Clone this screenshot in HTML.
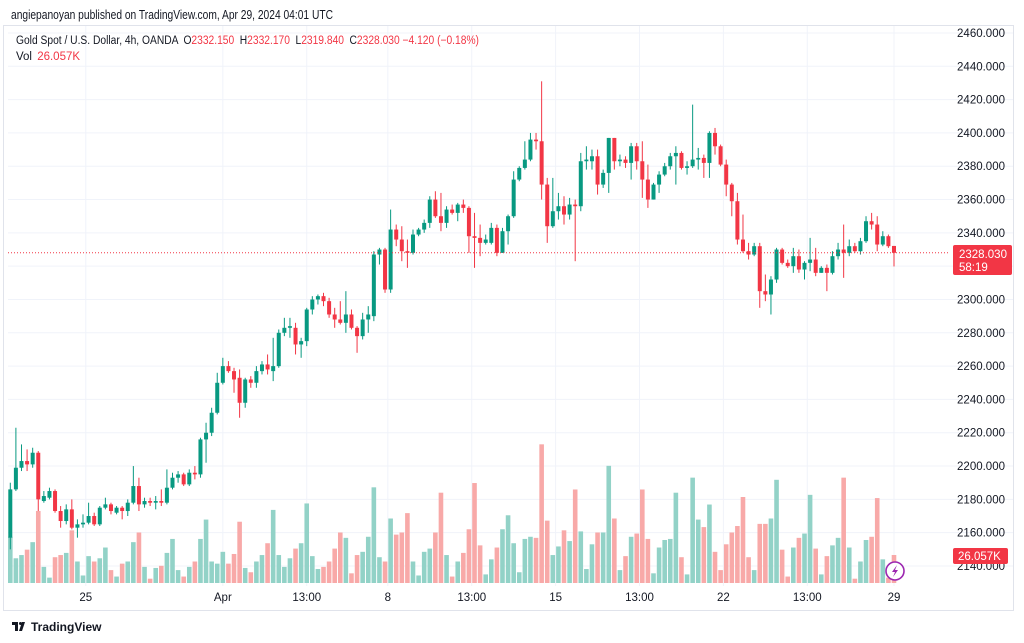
<!DOCTYPE html>
<html><head><meta charset="utf-8"><style>
html,body{margin:0;padding:0;background:#fff;width:1024px;height:643px;overflow:hidden;font-family:"Liberation Sans",sans-serif}
svg{position:absolute;left:0;top:0}
</style></head><body>
<svg id="chart" width="1024" height="643">
  <text x="11" y="19" font-size="12.5" fill="#131722" textLength="322" lengthAdjust="spacingAndGlyphs">angiepanoyan published on TradingView.com, Apr 29, 2024 04:01 UTC</text>
  <rect x="3.5" y="25.5" width="1010" height="585" fill="none" stroke="#e0e3eb"/>
  <g id="grid"></g>
  <g id="vols"></g>
  <g id="candles"></g>
  <line x1="8" x2="950" y1="0" y2="0" id="lastline" stroke="#f23645" stroke-dasharray="1,2"/>
  <g id="yaxis"></g>
  <g id="xaxis"></g>
  <g font-size="11.5">
    <text x="16" y="44" fill="#131722" textLength="463" lengthAdjust="spacingAndGlyphs">Gold Spot / U.S. Dollar, 4h, OANDA <tspan dx="3">O</tspan><tspan fill="#f23645">2332.150</tspan> <tspan dx="3">H</tspan><tspan fill="#f23645">2332.170</tspan> <tspan dx="3">L</tspan><tspan fill="#f23645">2319.840</tspan> <tspan dx="3">C</tspan><tspan fill="#f23645">2328.030 −4.120 (−0.18%)</tspan></text>
    <text x="16" y="60" fill="#131722">Vol <tspan fill="#f23645" dx="2">26.057K</tspan></text>
  </g>
  <rect x="953" y="245" width="59" height="30" rx="2" fill="#f23645"/>
  <text x="959" y="258" font-size="11.5" fill="#fff">2328.030</text>
  <text x="959" y="271" font-size="11.5" fill="#fff">58:19</text>
  <rect x="953" y="548" width="55" height="16" rx="2" fill="#f23645"/>
  <text x="958" y="560" font-size="11.5" fill="#fff">26.057K</text>
  <g>
    <circle cx="895" cy="571" r="9" fill="#fff" stroke="#9c27b0" stroke-width="1.6"/>
    <path d="M897 565 L892 572 L895 572 L893 577 L898 570 L895 570 Z" fill="#9c27b0"/>
  </g>
  <g>
    <path d="M12 622 h6 v9 h-3 v-6 h-3 z M19 631 l3-9 h3 l-3 9 z" fill="#131722"/>
    <circle cx="20.5" cy="623.5" r="1.5" fill="#131722"/>
    <text x="31" y="631" font-size="12" font-weight="bold" fill="#131722">TradingView</text>
  </g>
</svg>
<script>
const opens=[2157,2186,2199,2203,2201,2208,2179,2181,2185,2173,2167,2174,2163,2165,2166,2170,2165,2175,2177,2172,2175,2173,2178,2188,2177,2179,2178,2179,2178,2187,2193,2195,2189,2196,2195,2216,2220,2232,2250,2260,2257,2253,2238,2252,2250,2257,2261,2257,2260,2280,2283,2283,2273,2275,2294,2300,2302,2299,2291,2288,2286,2291,2283,2278,2288,2290,2327,2330,2306,2342,2336,2329,2328,2339,2342,2346,2360,2350,2346,2354,2352,2357,2355,2338,2337,2334,2334,2343,2328,2341,2350,2372,2379,2384,2396,2395,2369,2344,2353,2356,2351,2357,2356,2383,2383,2386,2369,2376,2397,2383,2384,2382,2392,2383,2372,2360,2369,2375,2380,2386,2388,2379,2380,2384,2385,2382,2400,2392,2381,2369,2359,2336,2329,2327,2332,2305,2303,2312,2330,2322,2320,2326,2318,2322,2324,2316,2319,2316,2326,2330,2328,2332,2329,2335,2347,2345,2333,2338,2332.15];
const highs=[2190,2223,2213,2210,2211,2209,2185,2187,2186,2176,2177,2180,2168,2171,2178,2172,2176,2181,2178,2176,2176,2180,2200,2193,2181,2181,2182,2186,2198,2196,2197,2196,2198,2200,2217,2226,2235,2256,2265,2263,2259,2258,2253,2254,2260,2263,2267,2277,2282,2289,2289,2286,2277,2295,2302,2303,2304,2301,2295,2299,2305,2294,2284,2292,2296,2329,2331,2331,2354,2345,2344,2336,2342,2343,2348,2362,2365,2364,2356,2357,2358,2360,2356,2352,2345,2339,2346,2345,2343,2351,2377,2380,2395,2400,2400,2431,2373,2373,2364,2362,2361,2360,2388,2392,2390,2390,2378,2397,2397,2387,2386,2394,2394,2395,2381,2370,2377,2382,2388,2392,2389,2383,2417,2391,2387,2401,2403,2393,2384,2370,2364,2351,2334,2334,2334,2315,2314,2331,2331,2324,2331,2330,2323,2337,2331,2320,2321,2329,2334,2345,2336,2334,2337,2350,2352,2350,2341,2339,2332.17];
const lows=[2150,2185,2197,2197,2199,2173,2178,2180,2172,2163,2165,2162,2157,2163,2165,2164,2164,2174,2171,2171,2168,2170,2177,2173,2175,2176,2174,2176,2177,2186,2190,2188,2188,2192,2193,2202,2218,2231,2249,2256,2244,2229,2235,2247,2247,2255,2255,2251,2259,2278,2277,2267,2265,2272,2291,2297,2296,2289,2283,2285,2280,2282,2268,2276,2280,2287,2321,2304,2304,2332,2323,2319,2327,2338,2340,2343,2349,2341,2343,2351,2347,2352,2328,2319,2326,2333,2333,2326,2328,2333,2349,2371,2378,2383,2390,2360,2334,2343,2348,2345,2348,2323,2353,2378,2378,2363,2367,2364,2378,2380,2379,2372,2378,2361,2355,2360,2364,2374,2378,2369,2378,2375,2379,2378,2373,2373,2387,2380,2362,2350,2333,2328,2324,2326,2295,2299,2291,2310,2321,2319,2316,2316,2312,2317,2314,2316,2305,2315,2324,2313,2326,2328,2327,2334,2342,2329,2332,2331,2319.84];
const closes=[2186,2199,2203,2201,2208,2180,2182,2185,2173,2167,2174,2163,2165,2166,2170,2165,2175,2177,2173,2175,2173,2178,2188,2177,2179,2178,2179,2178,2187,2193,2195,2189,2196,2195,2216,2220,2232,2250,2260,2257,2252,2238,2252,2250,2257,2261,2258,2260,2280,2283,2284,2273,2275,2294,2300,2302,2299,2291,2288,2286,2291,2283,2278,2288,2291,2327,2330,2306,2342,2336,2329,2328,2339,2342,2346,2360,2350,2346,2354,2352,2357,2355,2338,2337,2334,2336,2343,2328,2341,2350,2372,2379,2384,2396,2395,2369,2344,2353,2356,2351,2357,2356,2383,2384,2386,2369,2376,2397,2383,2384,2382,2392,2383,2372,2360,2369,2375,2380,2386,2388,2379,2380,2384,2385,2382,2400,2392,2381,2369,2359,2336,2329,2327,2332,2305,2303,2312,2330,2322,2320,2326,2318,2322,2324,2316,2319,2316,2326,2330,2328,2332,2329,2335,2347,2345,2333,2338,2332,2328.03];
const volumes=[43,23,26,31,38,67,15,5,24,26,28,49,20,7,25,20,23,33,12,6,18,20,38,47,15,4,14,16,28,41,12,6,15,20,41,59,20,18,29,18,27,57,14,10,20,26,37,68,26,15,23,32,37,74,25,13,15,20,32,47,42,9,26,29,43,89,24,20,60,45,47,65,20,7,29,32,47,84,26,6,20,28,50,93,35,8,22,33,50,63,37,10,41,43,42,129,58,26,34,49,39,87,48,13,36,47,47,109,60,12,25,43,46,87,41,9,33,40,41,84,24,8,98,59,52,73,29,12,36,47,53,80,24,12,55,55,60,96,31,6,33,42,46,82,32,8,25,35,42,98,33,4,20,40,43,79,22,5,26.057];
const priceTicks=[2460,2440,2420,2400,2380,2360,2340,2320,2300,2280,2260,2240,2220,2200,2180,2160,2140];
const timeLabels=["25","Apr","13:00","8","13:00","15","13:00","22","13:00","29"];
const timeIndex=[13.5,38,53,67.5,82.5,97.5,112.5,127.5,142.5,158];

const NS="http://www.w3.org/2000/svg";
function yP(p){return 33+(2460-p)*1.6656;}
function xI(i){return 10.3+i*5.593;}
function yV(v){return 583-v*1.075;}
function mk(tag,attrs,parent){const e=document.createElementNS(NS,tag);for(const k in attrs)e.setAttribute(k,attrs[k]);parent.appendChild(e);return e;}
const grid=document.getElementById('grid'),yax=document.getElementById('yaxis'),xax=document.getElementById('xaxis');
priceTicks.forEach(p=>{
  const l=mk('line',{x1:8,x2:1013,y1:yP(p),y2:yP(p),stroke:'#f0f3fa'},grid);
  
  
  const t=mk('text',{x:1005,y:yP(p)+4,'text-anchor':'end','font-size':11.5,fill:'#131722'},yax);
  t.textContent=p.toFixed(3);
  
  
});
timeLabels.forEach((s,k)=>{
  const x=xI(timeIndex[k]);
  const l=mk('line',{x1:x,x2:x,y1:26,y2:586,stroke:'#f0f3fa'},grid);
  
  
  const t=mk('text',{x:x,y:601,'text-anchor':'middle','font-size':11.5,fill:'#131722'},xax);
  t.textContent=s;
  
  
});
const vg=document.getElementById('vols'),cg=document.getElementById('candles');
for(let i=0;i<closes.length;i++){
  const x=xI(i),up=closes[i]>=opens[i];
  const col=up?'#089981':'#f23645';
  const vx=Math.max(x-2.3,8);
  const vb=mk('rect',{x:vx,y:yV(volumes[i]),width:x+2.3-vx,height:volumes[i]*1.075,fill:up?'#92d2c7':'#f8a9a8'},vg);
  
  
  if(x<8)continue;
  const w=mk('line',{x1:x,x2:x,y1:yP(highs[i]),y2:yP(lows[i]),stroke:col,'stroke-width':1},cg);
  
  
  const top=yP(Math.max(opens[i],closes[i])),bot=yP(Math.min(opens[i],closes[i]));
  const bx=Math.max(x-2,8);
  const b=mk('rect',{x:bx,y:top,width:x+2-bx,height:Math.max(bot-top,1),fill:col},cg);
  
  
}
const ll=document.getElementById('lastline');
ll.setAttribute('y1',yP(closes[closes.length-1]));ll.setAttribute('y2',yP(closes[closes.length-1]));
</script>
</body></html>
